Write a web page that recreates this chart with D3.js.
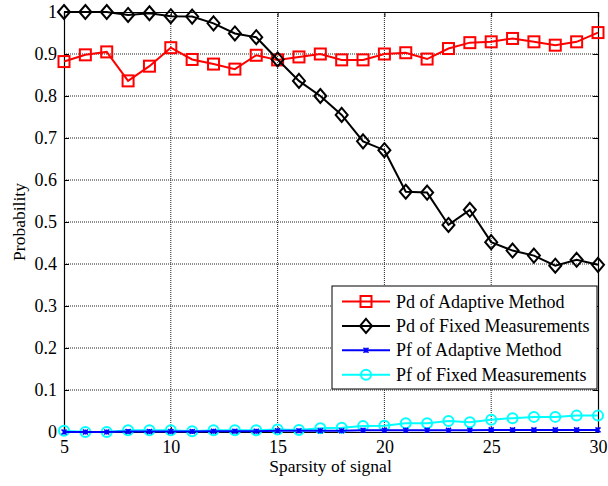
<!DOCTYPE html>
<html><head><meta charset="utf-8">
<script src="https://cdn.jsdelivr.net/npm/d3@7/dist/d3.min.js"></script>
<style>body{margin:0;background:#fff}svg{display:block}text{font-family:"Liberation Serif","Times New Roman",serif;fill:#000}</style>
</head><body><svg id="c" width="608" height="486"></svg>
<script>
const sparsity = d3.range(5, 31);
const pdAdaptive = [0.882,0.898,0.905,0.836,0.871,0.915,0.887,0.876,0.864,0.897,0.886,0.893,0.900,0.886,0.886,0.900,0.903,0.888,0.913,0.927,0.929,0.937,0.929,0.921,0.929,0.951];
const pdFixed = [1.0,1.0,1.0,0.993,0.997,0.990,0.989,0.973,0.949,0.940,0.887,0.836,0.800,0.755,0.692,0.671,0.572,0.570,0.493,0.529,0.452,0.432,0.420,0.396,0.410,0.398];
const pfAdaptive = [0.0,0.0,0.0,0.001,0.001,0.001,0.001,0.002,0.002,0.002,0.003,0.003,0.003,0.003,0.004,0.004,0.004,0.004,0.004,0.004,0.005,0.005,0.005,0.005,0.005,0.005];
const pfFixed = [0.003,0.0,0.0,0.004,0.004,0.004,0.002,0.004,0.004,0.004,0.006,0.005,0.009,0.010,0.014,0.015,0.021,0.021,0.026,0.023,0.029,0.033,0.036,0.036,0.039,0.039];
const xTicks = [5,10,15,20,25,30];
const yTicks = [0,0.1,0.2,0.3,0.4,0.5,0.6,0.7,0.8,0.9,1];
const seriesNames = ["Pd of Adaptive Method","Pd of Fixed Measurements","Pf of Adaptive Method","Pf of Fixed Measurements"];
const seriesColors = ["#ff0000","#000000","#0000ff","#00ffff"];
const seriesMarkers = ["square","diamond","x","circle"];
const seriesData = [pdAdaptive, pdFixed, pfAdaptive, pfFixed];

const L=64, R=598, T=12, B=432;
const svg = d3.select("#c");
const x = d3.scaleLinear().domain([5,30]).range([L,R]);
const y = d3.scaleLinear().domain([0,1]).range([B,T]);

// grid
const g = svg.append("g");
g.selectAll(".gx").data(xTicks.slice(1,-1)).join("line")
  .attr("x1",d=>x(d)).attr("x2",d=>x(d)).attr("y1",T).attr("y2",B)
  .attr("stroke","#222").attr("stroke-width",1).attr("stroke-dasharray","1,1");
g.selectAll(".gy").data(yTicks.slice(1,-1)).join("line")
  .attr("y1",d=>y(d)).attr("y2",d=>y(d)).attr("x1",L).attr("x2",R)
  .attr("stroke","#222").attr("stroke-width",1).attr("stroke-dasharray","1,1");

// axes
const fmt = d => d===0?"0":(d===1?"1":d3.format(".1f")(d));
const xa = svg.append("g").attr("transform",`translate(0,${B})`)
  .call(d3.axisBottom(x).tickValues(xTicks).tickSize(-5).tickPadding(8).tickFormat(d3.format("d")));
const xa2 = svg.append("g").attr("transform",`translate(0,${T})`)
  .call(d3.axisTop(x).tickValues(xTicks).tickSize(-5).tickFormat(""));
const ya = svg.append("g").attr("transform",`translate(${L},0)`)
  .call(d3.axisLeft(y).tickValues(yTicks).tickSize(-5).tickPadding(7).tickFormat(fmt));
const ya2 = svg.append("g").attr("transform",`translate(${R},0)`)
  .call(d3.axisRight(y).tickValues(yTicks).tickSize(-5).tickFormat(""));
[xa,xa2,ya,ya2].forEach(a=>{
  a.selectAll("path").attr("stroke","#000").attr("stroke-width",1.2);
  a.selectAll("line").attr("stroke","#000");
  a.selectAll("text").attr("font-family","Liberation Serif").attr("font-size",18).attr("fill","#000");
});

// marker drawing
function drawMarker(sel, type, color) {
  if (type==="square") sel.append("rect").attr("x",-5.5).attr("y",-5.5).attr("width",11).attr("height",11)
      .attr("fill","none").attr("stroke",color).attr("stroke-width",2);
  else if (type==="diamond") sel.append("path").attr("d","M0,-7L6,0L0,7L-6,0Z")
      .attr("fill","none").attr("stroke",color).attr("stroke-width",2);
  else if (type==="circle") sel.append("circle").attr("r",5)
      .attr("fill","none").attr("stroke",color).attr("stroke-width",2);
  else sel.append("path").attr("d","M-2.5,-2.5L2.5,2.5M-2.5,2.5L2.5,-2.5M0,-2.5L0,2.5")
      .attr("fill","none").attr("stroke",color).attr("stroke-width",1.5);
}

const line = d3.line().x((d,i)=>x(sparsity[i])).y(d=>y(d));
const order = [3,2,0,1];
order.forEach(k=>{
  const s = svg.append("g");
  s.append("path").datum(seriesData[k]).attr("d",line).attr("fill","none")
    .attr("stroke",seriesColors[k]).attr("stroke-width",2);
  s.selectAll("g.m").data(seriesData[k]).join("g")
    .attr("transform",(d,i)=>`translate(${x(sparsity[i])},${y(d)})`)
    .each(function(){ drawMarker(d3.select(this), seriesMarkers[k], seriesColors[k]); });
});

// legend
const lg = svg.append("g");
lg.append("rect").attr("x",332).attr("y",286).attr("width",265).attr("height",103)
  .attr("fill","#fff").attr("stroke","#000").attr("stroke-width",1);
seriesNames.forEach((n,i)=>{
  const yy = 301.5 + i*24.4;
  const r = lg.append("g");
  r.append("line").attr("x1",342).attr("x2",390).attr("y1",yy).attr("y2",yy)
    .attr("stroke",seriesColors[i]).attr("stroke-width",2);
  drawMarker(r.append("g").attr("transform",`translate(366,${yy})`), seriesMarkers[i], seriesColors[i]);
  r.append("text").attr("x",396).attr("y",yy+6).attr("font-size",18).text(n);
});

// labels
svg.append("text").attr("x",330.5).attr("y",472).attr("text-anchor","middle").attr("font-size",17.5).text("Sparsity of signal");
svg.append("text").attr("transform","translate(25,222) rotate(-90)").attr("text-anchor","middle").attr("font-size",17.5).text("Probability");
</script></body></html>
